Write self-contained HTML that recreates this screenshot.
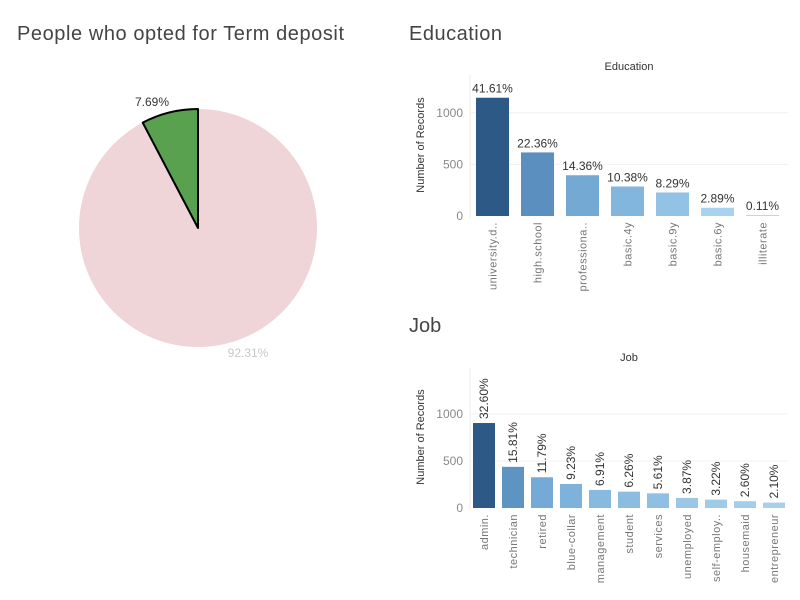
<!DOCTYPE html>
<html><head><meta charset="utf-8"><style>
body{margin:0;background:#fff;}
svg{display:block;font-family:"Liberation Sans","DejaVu Sans",sans-serif;}
</style></head><body>
<svg id="root" width="800" height="600" viewBox="0 0 800 600">
<text x="17" y="40" font-size="20" fill="#444" textLength="327">People who opted for Term deposit</text>
<text x="409" y="40" font-size="20" fill="#444" textLength="93">Education</text>
<text x="409" y="332" font-size="20" fill="#444">Job</text>
<g id="pie"></g>
<g id="edu"></g>
<g id="job"></g>
</svg>
<script>
const pieLabels=["yes","no"];
const pieValues=[7.69,92.31];
const eduCats=["university.d..","high.school","professiona..","basic.4y","basic.9y","basic.6y","illiterate"];
const eduValues=[1146,616,395,286,228,80,3];
const eduPct=["41.61%","22.36%","14.36%","10.38%","8.29%","2.89%","0.11%"];
const jobCats=["admin.","technician","retired","blue-collar","management","student","services","unemployed","self-employ..","housemaid","entrepreneur"];
const jobValues=[904,438,327,256,192,174,156,107,89,72,58];
const jobPct=["32.60%","15.81%","11.79%","9.23%","6.91%","6.26%","5.61%","3.87%","3.22%","2.60%","2.10%"];
const yTicks=[0,500,1000];
const NS="http://www.w3.org/2000/svg";
function mk(p,t,a){const e=document.createElementNS(NS,t);for(const k in a)e.setAttribute(k,a[k]);p.appendChild(e);return e;}
(function(){
 const g=document.getElementById('pie');const cx=198,cy=228,r=119;
 const tot=pieValues.reduce((a,b)=>a+b,0);
 const c=mk(g,'circle',{cx,cy,r,fill:'#efd5d8'});
 
 
 const a=pieValues[0]/tot*2*Math.PI;
 const x=cx-r*Math.sin(a),y=cy-r*Math.cos(a);
 const p=mk(g,'path',{d:`M${cx},${cy} L${cx},${cy-r} A${r},${r} 0 0 0 ${x},${y} Z`,fill:'#59a14f',stroke:'#000','stroke-width':2,'stroke-linejoin':'round'});
 
 
 const t1=mk(g,'text',{x:152,y:106,'font-size':12,fill:'#333','text-anchor':'middle'});t1.textContent=pieValues[0].toFixed(2)+'%';
 
 
 const t2=mk(g,'text',{x:248,y:357,'font-size':12,fill:'#c8c8c8','text-anchor':'middle'});t2.textContent=pieValues[1].toFixed(2)+'%';
 
 
})();
const eduColors=["#2c5985","#5b8fbf","#74a9d3","#83b6dc","#92c2e4","#a8d3ee","#b4d9f0"];
const jobColors=["#2c5985","#5e94c2","#74aad5","#7eb2da","#88b9de","#8cbde0","#8fbfe2","#9ac7e6","#a0cbe8","#a3cde9","#a8d0eb"];
function bars(id,cats,vals,pct,cols,cfg){
 const g=document.getElementById(id);
 const y=v=>cfg.base-v*cfg.k;
 const t=mk(g,'text',{x:cfg.titleX,y:cfg.titleY,'font-size':11,fill:'#333','text-anchor':'middle'});t.textContent=cfg.title;
 
 
 const ax=mk(g,'line',{x1:cfg.left,x2:cfg.left,y1:cfg.top,y2:cfg.base+2,stroke:'#eee'});
 
 
 yTicks.forEach(v=>{
  if(v>0){const l=mk(g,'line',{x1:cfg.left,x2:cfg.right,y1:y(v),y2:y(v),stroke:'#f0f0f0'});
   
   }
  const tt=mk(g,'text',{x:cfg.left-7,y:y(v)+4,'font-size':12,fill:'#888','text-anchor':'end'});tt.textContent=v;
  
  
 });
 const yl=mk(g,'text',{transform:`translate(${cfg.left-46},${cfg.ytY}) rotate(-90)`,'font-size':11,fill:'#333','text-anchor':'middle'});yl.textContent='Number of Records';
 
 
 cats.forEach((c,i)=>{
  const x=cfg.x0+i*cfg.pitch;
  const h=Math.max(vals[i]*cfg.k,1);
  const b=mk(g,'rect',{x,y:cfg.base-h,width:cfg.w,height:h,fill:cols[Math.min(i,cols.length-1)]});
  
  
  const cx=x+cfg.w/2;
  let lab;
  if(cfg.rotLabels){lab=mk(g,'text',{transform:`translate(${cx+4},${cfg.base-h-4}) rotate(-90)`,'font-size':12,fill:'#333'});}
  else{lab=mk(g,'text',{x:cx,y:cfg.base-h-5,'font-size':12,fill:'#333','text-anchor':'middle'});}
  lab.textContent=pct[i];
  
  
  const xl=mk(g,'text',{transform:`translate(${cx+4},${cfg.base+6}) rotate(-90)`,'font-size':11,fill:'#777','text-anchor':'end','letter-spacing':'0.5'});xl.textContent=c;
  
  
 });
}
bars('edu',eduCats,eduValues,eduPct,eduColors,{title:'Education',titleX:629,titleY:70,left:470,right:788,top:75,base:216,k:0.1032,x0:476,pitch:45,w:33,ytY:145,rotLabels:false});
bars('job',jobCats,jobValues,jobPct,jobColors,{title:'Job',titleX:629,titleY:361,left:470,right:788,top:368,base:508,k:0.094,x0:473,pitch:29,w:22,ytY:437,rotLabels:true});
</script>
</body></html>
